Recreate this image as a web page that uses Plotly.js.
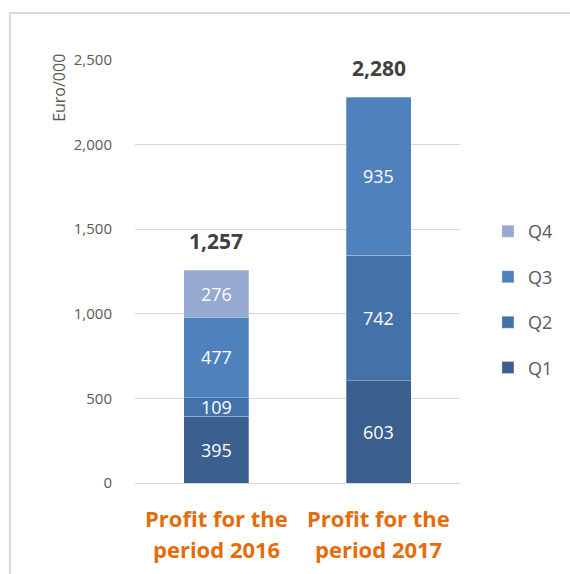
<!DOCTYPE html>
<html>
<head>
<meta charset="utf-8">
<script src="https://cdn.plot.ly/plotly-3.0.1.min.js"></script>
<style>html,body{margin:0;padding:0;background:#fff;}#chart{width:570px;height:574px;}</style>
</head>
<body>
<div id="chart"></div>
<script>
const categories = [["Profit for the", "period 2016"], ["Profit for the", "period 2017"]];
const seriesNames = ["Q1", "Q2", "Q3", "Q4"];
const q1 = [395, 603];
const q2 = [109, 742];
const q3 = [477, 935];
const q4 = [276, null];
const totals = [1257, 2280];
const totalLabels = ["1,257", "2,280"];
const yTickVals = [0, 500, 1000, 1500, 2000, 2500];

const seriesValues = [q1, q2, q3, q4];
const colors = ["#3B5F8E", "#4471A8", "#4F81BD", "#95A9D1"];
const FONT = "'Open Sans', sans-serif";

const traces = seriesValues.map((vals, i) => ({
  type: "bar",
  name: seriesNames[i],
  x: [0, 1],
  y: vals,
  width: 0.4,
  marker: {color: colors[i], line: {color: "rgba(255,255,255,0.35)", width: 0.8}},
  legendgroup: seriesNames[i],
  legendrank: 10 - i,
  hoverinfo: "skip"
}));

const annotations = [];
for (let c = 0; c < 2; c++) {
  let base = 0;
  seriesValues.forEach((vals) => {
    const v = vals[c];
    if (v == null) return;
    annotations.push({
      x: c, y: base + v / 2, xref: "x", yref: "y",
      text: String(v), showarrow: false,
      font: {family: FONT, size: 18, color: "#FFFFFF"}
    });
    base += v;
  });
  annotations.push({
    x: c, y: totals[c], xref: "x", yref: "y",
    text: "<b>" + totalLabels[c] + "</b>", showarrow: false,
    yanchor: "bottom", yshift: 13,
    font: {family: FONT, size: 21, color: "#404040"}
  });
  categories[c].forEach((line, k) => {
    annotations.push({
      x: c, y: 0, xref: "x", yref: "paper",
      text: "<b>" + line + "</b>", showarrow: false,
      yanchor: "middle", yshift: -35 - 31 * k,
      font: {family: FONT, size: 22, color: "#E46C0A"}
    });
  });
}
annotations.push({
  x: -0.234, y: 0.934, xref: "paper", yref: "paper",
  xanchor: "center", yanchor: "middle",
  text: "Euro/000", textangle: -90, showarrow: false,
  font: {family: FONT, size: 16, color: "#595959"}
});

const layout = {
  width: 570, height: 574,
  margin: {l: 135, r: 108, t: 60, b: 91},
  paper_bgcolor: "#FFFFFF", plot_bgcolor: "#FFFFFF",
  barmode: "stack",
  showlegend: true,
  legend: {
    x: 1.086, y: 0.638, xanchor: "left", yanchor: "top",
    traceorder: "grouped", tracegroupgap: 19,
    font: {family: FONT, size: 18, color: "#595959"},
    itemwidth: 30
  },
  xaxis: {
    type: "linear", range: [-0.5, 1.5],
    tickvals: [0, 1], showticklabels: false,
    showgrid: false, zeroline: false, showline: false, ticks: "",
    fixedrange: true
  },
  yaxis: {
    range: [0, 2500], tickvals: yTickVals, tickformat: ",",
    tickfont: {family: FONT, size: 15, color: "#595959"},
    showgrid: true, gridcolor: "#D9D9D9", gridwidth: 1,
    zeroline: true, zerolinecolor: "#D9D9D9", zerolinewidth: 1,
    showline: false, ticks: "", ticklabelstandoff: 22
  },
  annotations: annotations,
  shapes: [{
    type: "rect", xref: "paper", yref: "paper",
    x0: -0.385, x1: 1.42, y0: -0.25, y1: 1.111,
    line: {color: "#D9D9D9", width: 2}, fillcolor: "rgba(0,0,0,0)", layer: "below"
  }]
};

Plotly.newPlot("chart", traces, layout, {staticPlot: true, displayModeBar: false});
</script>
</body>
</html>
